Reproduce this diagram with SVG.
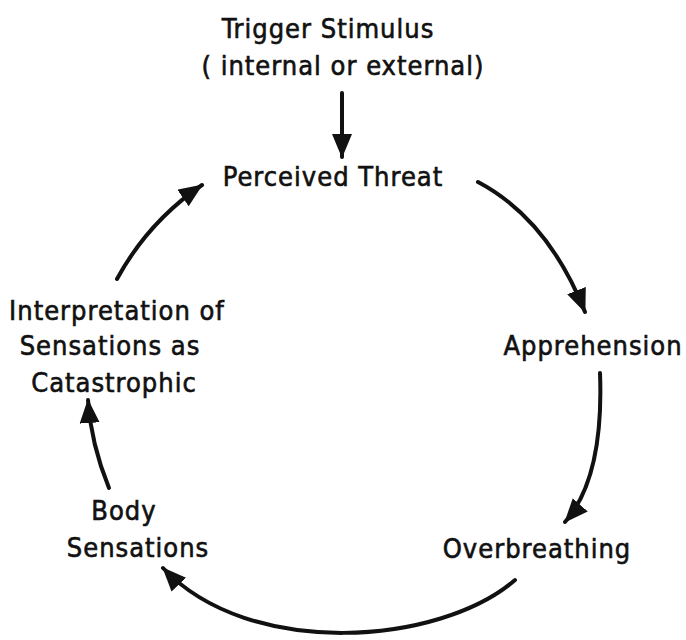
<svg xmlns="http://www.w3.org/2000/svg" width="686" height="640" viewBox="0 0 686 640">
<style>
text{font-family:"DejaVu Sans Condensed","DejaVu Sans","Liberation Sans",sans-serif;font-size:27px;letter-spacing:1px;fill:#111;stroke:#111;stroke-width:0.6;text-anchor:middle}
.c{fill:none;stroke:#111;stroke-width:4;stroke-linecap:round;marker-end:url(#ah)}
</style>
<defs>
<marker id="ah" markerUnits="userSpaceOnUse" markerWidth="26" markerHeight="22" refX="23" refY="10" orient="auto">
<path d="M0,0 L24,10 L0,20 Z" fill="#111"/>
</marker>
</defs>
<rect width="686" height="640" fill="#fff"/>
<g id="trigger"><text x="328" y="38">Trigger Stimulus</text><text x="343" y="75">( internal or external)</text></g>
<g id="threat"><text x="333" y="186">Perceived Threat</text></g>
<g id="apprehension"><text x="593" y="355">Apprehension</text></g>
<g id="overbreathing"><text x="537" y="558">Overbreathing</text></g>
<g id="body"><text x="124" y="520">Body</text><text x="138" y="557">Sensations</text></g>
<g id="interpretation"><text x="117" y="320">Interpretation of</text><text x="110" y="355">Sensations as</text><text x="114" y="392">Catastrophic</text></g>
<g id="connectors">
<path class="c" d="M342,93 L342,157"/>
<path class="c" d="M478,182 Q548,219 585,312"/>
<path class="c" d="M600,373 Q604,478 565,522"/>
<path class="c" d="M515,580 C440,645 250,660 163,568"/>
<path class="c" d="M109,488 Q91,444 88,400"/>
<path class="c" d="M117,279 Q148,222 202,185"/>
</g>
</svg>
